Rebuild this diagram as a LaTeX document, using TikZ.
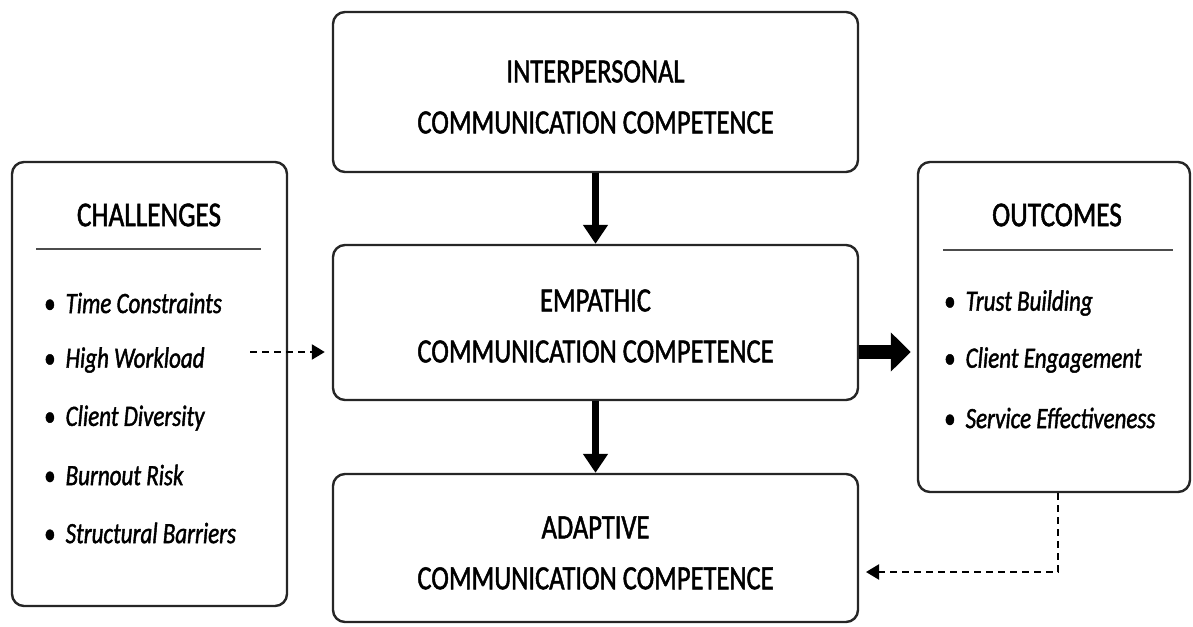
\documentclass[tikz,border=0pt]{standalone}
\usepackage{fontspec}
\setmainfont{Carlito}[FakeStretch=0.78, FakeBold=1.4]
\usetikzlibrary{arrows.meta}
\begin{document}
\begin{tikzpicture}[x=1pt,y=-1pt,
  box/.style={draw=black!85, line width=2.4pt, rounded corners=12pt, fill=white, inner sep=0pt},
  boxtext/.style={align=center, font=\fontsize{34}{51}\selectfont},
  title/.style={font=\fontsize{35}{36}\selectfont},
  item/.style={anchor=west, font=\fontsize{29.5}{30}\selectfont\itshape, inner sep=0pt},
  bigarrow/.style={line width=7.5pt, -{Triangle[width=24pt,length=19pt]}},
  widearrow/.style={line width=14pt, -{Triangle[width=38pt,length=20pt]}},
  dasharrow/.style={line width=2.2pt, dash pattern=on 7pt off 5pt, -{Triangle[width=15pt,length=13pt]}},
  rule/.style={line width=2pt, draw=black!70}
]
\useasboundingbox (0,0) rectangle (1193,626);
% central boxes
\node[box, minimum width=525pt, minimum height=160pt] (top) at (595.5,92) {};
\node[boxtext] (toptext) at (595.5,97) {INTERPERSONAL\\COMMUNICATION COMPETENCE};
\node[box, minimum width=525pt, minimum height=155pt] (mid) at (595.5,322.5) {};
\node[boxtext] (midtext) at (595.5,326) {EMPATHIC\\COMMUNICATION COMPETENCE};
\node[box, minimum width=525pt, minimum height=148pt] (bot) at (595.5,548) {};
\node[boxtext] (bottext) at (595.5,553) {ADAPTIVE\\COMMUNICATION COMPETENCE};
% challenges
\node[box, minimum width=275pt, minimum height=444pt] (chal) at (149.5,384) {};
\node[title] (chaltitle) at (149,215) {CHALLENGES};
\coordinate (chalr1) at (36,249);
\coordinate (chalr2) at (261,249);
\draw[rule] (chalr1) -- (chalr2);
\node[item] (c1) at (44,303) {{\upshape\textbullet}\hspace{10pt}Time Constraints};
\node[item] (c2) at (44,360) {{\upshape\textbullet}\hspace{10pt}High Workload};
\node[item] (c3) at (44,418) {{\upshape\textbullet}\hspace{10pt}Client Diversity};
\node[item] (c4) at (44,475) {{\upshape\textbullet}\hspace{10pt}Burnout Risk};
\node[item] (c5) at (44,533) {{\upshape\textbullet}\hspace{10pt}Structural Barriers};
% outcomes
\node[box, minimum width=272pt, minimum height=330pt] (out) at (1054,327) {};
\node[title] (outtitle) at (1057,215) {OUTCOMES};
\coordinate (outr1) at (943,250);
\coordinate (outr2) at (1173,250);
\draw[rule] (outr1) -- (outr2);
\node[item] (o1) at (944,303) {{\upshape\textbullet}\hspace{10pt}Trust Building};
\node[item] (o2) at (944,360) {{\upshape\textbullet}\hspace{10pt}Client Engagement};
\node[item] (o3) at (944,418) {{\upshape\textbullet}\hspace{10pt}Service Effectiveness};
% connectors
\draw[bigarrow] (top.south) -- (mid.north);
\draw[bigarrow] (mid.south) -- (bot.north);
\coordinate (hline) at (0,352);
\draw[widearrow] (mid.east |- hline) -- ([xshift=-6pt]out.west |- hline);
\coordinate (dstart) at (250,352);
\draw[dasharrow] (dstart) -- ([xshift=-7pt]mid.west |- dstart);
\coordinate (dcorner) at (1058,572);
\coordinate (dend) at (866,572);
\draw[dasharrow] (out.south -| dcorner) -- (dcorner) -- (dend);
\end{tikzpicture}
\end{document}
